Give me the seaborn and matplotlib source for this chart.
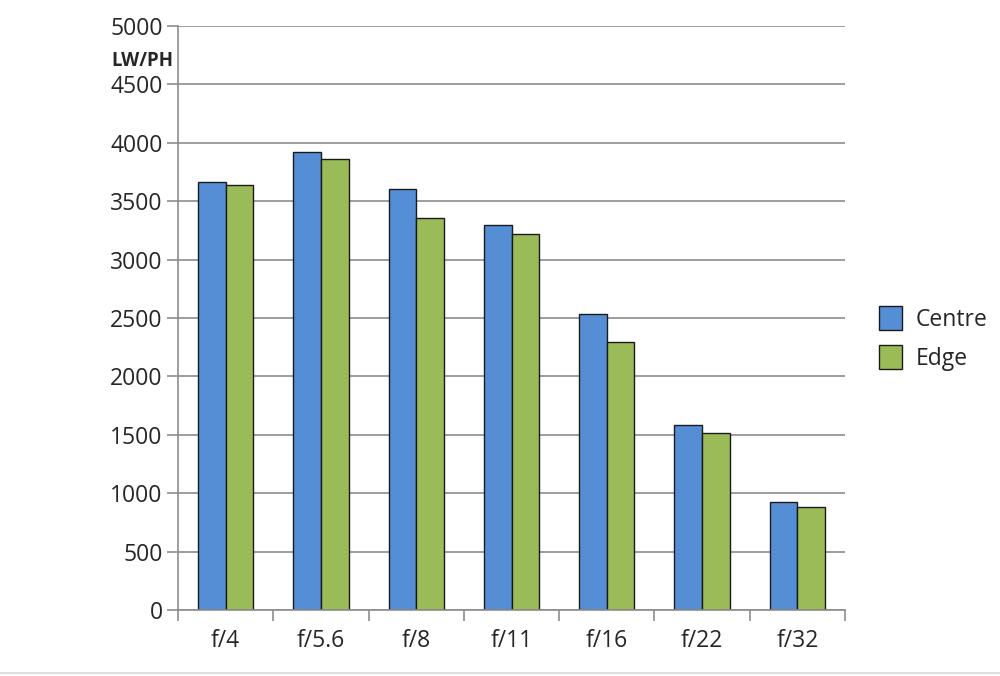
"""Resolution (LW/PH) at centre and edge of frame across apertures."""

import matplotlib
matplotlib.use("Agg")
import matplotlib.pyplot as plt
import pandas as pd
import seaborn as sns

APERTURES = ["f/4", "f/5.6", "f/8", "f/11", "f/16", "f/22", "f/32"]
CENTRE = [3660, 3925, 3600, 3300, 2530, 1587, 926]
EDGE = [3635, 3862, 3360, 3222, 2292, 1515, 883]
SERIES = ["Centre", "Edge"]
COLOURS = ["#558ED5", "#9BBB59"]
Y_TICKS = [0, 500, 1000, 1500, 2000, 2500, 3000, 3500, 4000, 4500, 5000]

sns.set_theme(style="white")
plt.rcParams["font.family"] = ["Open Sans", "DejaVu Sans"]

df = pd.DataFrame({
    "aperture": APERTURES * 2,
    "value": CENTRE + EDGE,
    "series": [SERIES[0]] * len(APERTURES) + [SERIES[1]] * len(APERTURES),
})

fig = plt.figure(figsize=(10, 6.76), dpi=100)
ax = fig.add_axes([0.178, 0.0976, 0.667, 0.864])

sns.barplot(
    data=df, x="aperture", y="value", hue="series", order=APERTURES, hue_order=SERIES,
    palette=COLOURS, width=0.58, edgecolor="#1a1a1a", linewidth=1.0, saturation=1, ax=ax,
)

ax.set_ylim(0, 5000)
ax.set_xlim(-0.5, len(APERTURES) - 0.5)
ax.set_yticks(Y_TICKS)
ax.yaxis.grid(True, color="#8c8c8c", linewidth=1.2)
ax.set_axisbelow(True)
for side in ["top", "right"]:
    ax.spines[side].set_visible(False)
for side in ["left", "bottom"]:
    ax.spines[side].set_color("#8c8c8c")
    ax.spines[side].set_linewidth(1.2)

# y ticks stick out to the left like the gridlines; x ticks sit between categories
ax.tick_params(axis="y", which="major", left=True, length=8, width=1.2, color="#8c8c8c",
               labelsize=16.5, pad=3)
ax.set_xticks([i - 0.5 for i in range(len(APERTURES) + 1)], minor=True)
ax.tick_params(axis="x", which="minor", bottom=True, length=8, width=1.2, color="#8c8c8c")
ax.tick_params(axis="x", which="major", bottom=False, labelsize=16.5, pad=8)
ax.set_xlabel("")
ax.set_ylabel("")

fig.text(0.142, 0.91, "LW/PH", fontsize=13.5, fontweight="bold", ha="center", va="center")

ax.legend(title=None, loc="center left", bbox_to_anchor=(1.02, 0.465), frameon=False,
          fontsize=16.5, handlelength=1.0, handleheight=1.2, handletextpad=0.6, labelspacing=0.6)

fig.add_artist(plt.Line2D([0, 1], [0.004, 0.004], color="#e0e0e0", linewidth=1.5))

fig.savefig("out.png", dpi=100)
